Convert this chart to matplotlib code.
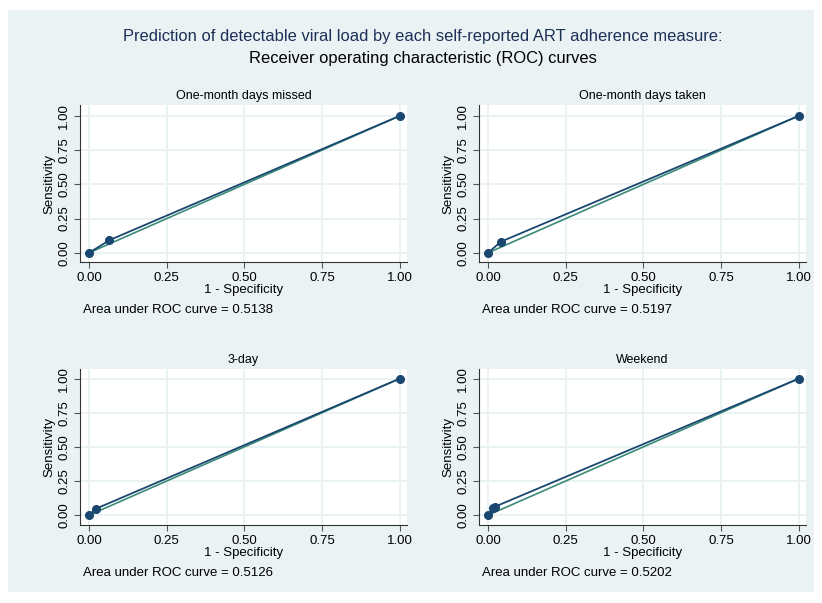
import matplotlib
matplotlib.use("Agg")
import matplotlib.pyplot as plt
from matplotlib.patches import Rectangle

plt.rcParams['font.family'] = ['Liberation Sans', 'DejaVu Sans']

titles = ["One-month days missed", "One-month days taken", "3-day", "Weekend"]
fpr = [
    [0.0, 0.065, 1.0],
    [0.0, 0.040, 1.0],
    [0.0, 0.022, 1.0],
    [0.0, 0.015, 0.022, 1.0],
]
tpr = [
    [0.0, 0.092, 1.0],
    [0.0, 0.080, 1.0],
    [0.0, 0.047, 1.0],
    [0.0, 0.052, 0.062, 1.0],
]
auc = ["0.5138", "0.5197", "0.5126", "0.5202"]
ticks = [0.0, 0.25, 0.5, 0.75, 1.0]
tick_labels = ["0.00", "0.25", "0.50", "0.75", "1.00"]

W, H = 822, 603
fig = plt.figure(figsize=(W / 100, H / 100), dpi=100)
fig.patch.set_facecolor('white')
bg = '#EAF2F3'
fig.patches.append(Rectangle((8 / W, 1 - 592 / H), (814 - 8) / W, (592 - 10) / H,
                             transform=fig.transFigure, facecolor=bg, edgecolor='none', zorder=-10))

fig.text(423 / W, 1 - 36 / H, "Prediction of detectable viral load by each self-reported ART adherence measure:",
         ha='center', va='center', fontsize=11.9, color='#1c2f57')
fig.text(423 / W, 1 - 59 / H, "Receiver operating characteristic (ROC) curves",
         ha='center', va='center', fontsize=11.9, color='black')

# axes boxes in pixel coords: left, right, top, bottom
boxes = [(80, 407, 105, 262), (479, 806, 105, 262), (80, 407, 369, 525), (479, 806, 369, 525)]
navy = '#1a476f'
teal = '#3a8a78'

for i, (l, r, t, b) in enumerate(boxes):
    ax = fig.add_axes([l / W, 1 - b / H, (r - l) / W, (b - t) / H])
    ax.set_facecolor('white')
    ax.set_xlim(-0.030, 1.024)
    if i < 2:
        ax.set_ylim(-0.068, 1.080)
    else:
        ax.set_ylim(-0.073, 1.071)
    ax.set_xticks(ticks)
    ax.set_xticklabels(tick_labels)
    ax.set_yticks(ticks)
    ax.set_yticklabels(tick_labels, rotation=90, va='center')
    ax.grid(True, color=bg, linewidth=1.4)
    ax.set_axisbelow(True)
    for s in ['top', 'right']:
        ax.spines[s].set_visible(False)
    for s in ['left', 'bottom']:
        ax.spines[s].set_color('#333333')
        ax.spines[s].set_linewidth(0.8)
    ax.tick_params(axis='both', direction='out', length=4, width=0.8, color='#555555',
                   labelsize=9.5, pad=3)
    ax.plot([0, 1], [0, 1], color=teal, linewidth=1.2, zorder=2)
    ax.plot(fpr[i], tpr[i], color=navy, linewidth=1.3, marker='o', markersize=5.5,
            markerfacecolor=navy, markeredgecolor=navy, zorder=3)
    ax.set_title(titles[i], fontsize=9, pad=4)
    ax.set_xlabel("1 - Specificity", fontsize=9.5, labelpad=0)
    ax.set_ylabel("Sensitivity", fontsize=9.5, labelpad=2)
    fig.text((l + 3) / W, 1 - (b + 48) / H, "Area under ROC curve = " + auc[i],
             ha='left', va='center', fontsize=9.5)

fig.savefig("out.png", dpi=100)
